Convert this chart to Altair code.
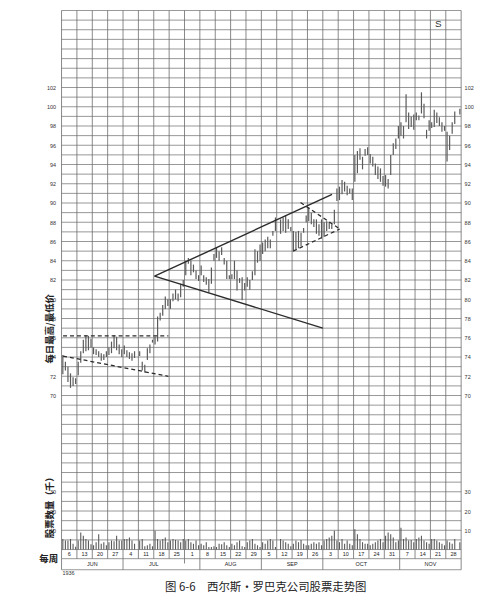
import altair as alt
import pandas as pd

# ---------------- data ----------------
WEEK_LABELS = ["6", "13", "20", "27", "4", "11", "18", "25", "1", "8", "15", "22", "29",
               "5", "12", "19", "26", "3", "10", "17", "24", "31", "7", "14", "21", "28"]
MONTHS = ["JUN", "JUL", "AUG", "SEP", "OCT", "NOV"]
MONTH_LABEL_POS = [2, 6, 11, 15, 19.5, 24]
MONTH_BOUNDS = [0, 4, 9, 13, 17, 22, 26]

# daily highs / lows, 6 trading days per week (None = no trading)
HIGH = [
    74.2, 73.5, 73.0, 72.3, 71.9, 71.8,
    73.5, 74.6, 75.8, 76.3, 76.2, 75.9,
    75.0, 74.8, 74.6, 74.4, 74.3, 74.6,
    75.0, 75.6, 76.3, 76.1, 75.3, 74.8,
    75.2, 74.7, 74.5, 74.4, 74.6, None,
    74.6, 73.5, 73.2, 74.9, 75.3, 75.8,
    76.1, 78.2, 78.6, 79.4, 80.3, 80.0,
    80.0, 80.6, 81.0, 80.6, 81.6, 82.0,
    84.0, 84.3, 84.0, 83.6, 83.0, 82.5,
    83.5, 82.5, 82.3, 82.1, 83.3, 84.7,
    85.4, 85.0, 85.4, 84.3, 84.0, 82.5,
    82.6, 84.0, 83.0, 82.2, 82.3, 81.7,
    82.3, 82.0, 82.9, 85.2, 85.0, 85.7,
    85.9, 86.2, 86.5, 86.2, 87.1, 88.5,
    None, 88.3, 88.5, 88.7, 88.3, 87.5,
    87.1, 87.0, 87.1, 86.9, 87.4, 88.7,
    89.5, 89.0, 88.3, 88.3, 87.8, 88.3,
    88.0, 88.1, 88.0, 87.8, 89.3, 91.5,
    91.7, 92.4, 92.2, 91.8, 91.5, 91.5,
    95.0, 95.4, 95.7, 94.8, 95.6, 95.8,
    95.1, 94.8, 94.1, 93.8, 93.6, 92.8,
    92.9, 92.5, 95.0, 96.2, 96.7, 98.0,
    98.4, 98.0, 101.3, 99.4, 99.0, 99.2,
    99.4, 99.1, 101.5, 100.3, 97.6, 98.6,
    98.4, 99.7, 99.4, 98.9, 98.4, 98.0,
    97.4, 97.0, 98.4, 99.5, None, 99.8,
]
LOW = [
    72.2, 72.6, 71.4, 70.8, 71.0, 71.2,
    72.1, 73.4, 74.4, 74.6, 74.7, 75.0,
    74.3, 74.2, 74.0, 73.6, 73.7, 74.0,
    74.2, 74.4, 74.9, 74.7, 74.3, 74.0,
    74.3, 74.0, 73.8, 73.6, 73.9, None,
    74.1, 72.6, 72.4, 73.7, 74.4, 75.5,
    75.3, 75.6, 77.8, 78.3, 79.0, 79.3,
    79.0, 79.8, 80.0, 79.8, 80.2, 81.3,
    82.5, 83.7, 82.5, 82.8, 82.1, 81.9,
    82.5, 81.8, 81.5, 80.7, 81.6, 84.0,
    84.3, 84.0, 84.6, 83.6, 82.1, 82.1,
    82.1, 82.1, 80.9, 81.7, 79.9, 80.9,
    81.3, 81.0, 82.0, 82.5, 83.8, 84.0,
    84.7, 85.0, 85.3, 85.3, 86.6, 87.1,
    None, 86.8, 87.1, 86.9, 87.3, 87.1,
    85.0, 85.2, 85.3, 85.5, 86.9, 88.0,
    88.1, 87.8, 87.5, 86.8, 86.6, 86.3,
    86.5, 87.1, 87.3, 87.3, 87.8, 90.2,
    90.3, 90.9, 91.2, 90.8, 91.0, 90.3,
    92.2, 93.1, 94.5, 93.5, 94.9, 95.0,
    94.1, 93.8, 92.9, 92.5, 92.2, 91.8,
    91.7, 91.5, 92.9, 95.0, 95.6, 96.7,
    97.0, 96.7, 98.4, 97.7, 97.9, 97.6,
    98.6, 98.6, 99.3, 98.8, 96.7, 97.5,
    97.8, 97.9, 98.3, 98.0, 97.4, 97.5,
    94.3, 95.5, 97.2, 98.2, None, 99.2,
]
# daily volume, thousands of shares
VOLUME = [
    5.5, 4.7, 4.7, 5.5, 3.0, 1.5,
    4.7, 8.8, 7.2, 5.5, 4.7, 2.7,
    2.2, 3.8, 8.0, 3.0, 3.8, 2.2,
    3.8, 4.7, 4.3, 7.2, 4.7, 4.7,
    5.5, 5.5, 6.3, 4.7, 3.0, None,
    4.7, 5.5, 1.7, 2.2, 3.0, 1.7,
    9.7, 5.5, 4.7, 5.5, 6.3, 3.8,
    4.7, 5.5, 5.0, 4.7, 3.8, 5.5,
    4.7, 5.5, 3.8, 3.0, 4.7, 2.2,
    3.0, 2.2, 3.8, 1.3, 1.3, 1.7,
    1.3, 3.0, 2.7, 3.8, 2.2, 1.3,
    3.0, 2.2, 3.8, 4.7, 1.7, 1.3,
    3.8, 4.7, 5.5, 3.0, 2.2, 1.3,
    3.8, 3.0, 4.7, 5.5, 4.7, 1.3,
    None, 5.5, 4.7, 3.8, 3.0, 1.7,
    3.0, 4.7, 3.8, 5.0, 3.0, 2.2,
    2.2, 3.0, 3.8, 3.0, 3.8, 2.2,
    4.7, 5.5, 6.3, 7.2, 9.7, 4.7,
    3.8, 5.5, 3.0, 4.7, 3.0, 2.2,
    10.5, 8.0, 5.5, 3.8, 3.0, 3.0,
    2.2, 3.0, 3.8, 4.7, 5.5, 3.8,
    7.2, 8.8, 8.0, 6.3, 3.8, 4.7,
    11.3, 5.5, 6.3, 4.7, 5.0, 3.8,
    5.5, 6.3, 7.2, 4.7, 3.8, 3.0,
    5.5, 5.5, 4.7, 3.8, 3.0, 2.2,
    4.7, 3.8, 3.0, 5.5, None, 3.8,
]

# trend lines (week position, price)
SOLID_X1 = [6.05, 6.05]
SOLID_Y1 = [82.4, 82.4]
SOLID_X2 = [17.6, 17.0]
SOLID_Y2 = [90.9, 77.0]
DASH_X1 = [0.1, 0.1, 15.55, 15.07]
DASH_Y1 = [76.2, 74.1, 90.05, 85.0]
DASH_X2 = [6.95, 6.95, 18.1, 18.1]
DASH_Y2 = [76.2, 72.0, 87.3, 87.3]

PRICE_TICKS = [70, 72, 74, 76, 78, 80, 82, 84, 86, 88, 90, 92, 94, 96, 98, 100, 102]
VOLUME_TICKS = [10, 20, 30]

# ---------------- layout constants ----------------
N_WEEKS = 26
DAYS = 6
VOL_BASE = 54.0       # price-grid row where volume zero sits
VOL_PER_UNIT = 5.0    # volume (thousands) per grid unit
WEEK_ROW_TOP = 54.0
WEEK_ROW_BOT = 53.05
MONTH_ROW_BOT = 51.9
Y_TOP = 110

XS = alt.Scale(domain=[0, N_WEEKS], nice=False, zero=False)
YS = alt.Scale(domain=[MONTH_ROW_BOT, Y_TOP], nice=False, zero=False)
GRID = "#6a6a6a"
INK = "#2b2b2b"
BAR = "#5a5a5a"
FONT = "Liberation Sans"
CJK = "Noto Sans CJK SC"

n = len(HIGH)
daily = pd.DataFrame({
    "x": [(i // DAYS) + ((i % DAYS) + 0.5) / DAYS for i in range(n)],
    "high": HIGH,
    "low": LOW,
    "vol": VOLUME,
})
price_df = daily.dropna(subset=["high", "low"])
vol_df = daily.dropna(subset=["vol"])

# grid
hgrid = pd.DataFrame({"p": list(range(54, Y_TOP + 1)) + [WEEK_ROW_BOT, MONTH_ROW_BOT]})
hgrid["x0"] = 0
hgrid["x1"] = N_WEEKS
vgrid = pd.DataFrame({"w": list(range(N_WEEKS + 1))})
vgrid["y0"] = WEEK_ROW_BOT
vgrid["y1"] = Y_TOP
mgrid = pd.DataFrame({"w": MONTH_BOUNDS + [8],
                      "y0": [MONTH_ROW_BOT] * len(MONTH_BOUNDS) + [52.55],
                      "y1": [WEEK_ROW_BOT] * (len(MONTH_BOUNDS) + 1)})

l_hgrid = alt.Chart(hgrid).mark_rule(color=GRID, strokeWidth=0.7).encode(
    x=alt.X("x0:Q", scale=XS, axis=None), x2="x1:Q",
    y=alt.Y("p:Q", scale=YS, axis=None))
l_vgrid = alt.Chart(vgrid).mark_rule(color=GRID, strokeWidth=0.8).encode(
    x=alt.X("w:Q", scale=XS, axis=None),
    y=alt.Y("y0:Q", scale=YS, axis=None), y2="y1:Q")
l_mgrid = alt.Chart(mgrid).mark_rule(color=GRID, strokeWidth=0.8).encode(
    x=alt.X("w:Q", scale=XS, axis=None),
    y=alt.Y("y0:Q", scale=YS, axis=None), y2="y1:Q")

l_price = alt.Chart(price_df).mark_rule(color=BAR, strokeWidth=1.2).encode(
    x=alt.X("x:Q", scale=XS, axis=None),
    y=alt.Y("low:Q", scale=YS, axis=None), y2="high:Q")

l_vol = alt.Chart(vol_df).transform_calculate(
    v0=f"{VOL_BASE}",
    v1=f"{VOL_BASE} + datum.vol / {VOL_PER_UNIT}",
).mark_rule(color=BAR, strokeWidth=1.1).encode(
    x=alt.X("x:Q", scale=XS, axis=None),
    y=alt.Y("v0:Q", scale=YS, axis=None), y2="v1:Q")

solid = pd.DataFrame({"x1": SOLID_X1, "y1": SOLID_Y1, "x2": SOLID_X2, "y2": SOLID_Y2})
dash = pd.DataFrame({"x1": DASH_X1, "y1": DASH_Y1, "x2": DASH_X2, "y2": DASH_Y2})
l_solid = alt.Chart(solid).mark_rule(color=INK, strokeWidth=1.4).encode(
    x=alt.X("x1:Q", scale=XS, axis=None), x2="x2:Q",
    y=alt.Y("y1:Q", scale=YS, axis=None), y2="y2:Q")
l_dash = alt.Chart(dash).mark_rule(color=INK, strokeWidth=1.3, strokeDash=[4, 3]).encode(
    x=alt.X("x1:Q", scale=XS, axis=None), x2="x2:Q",
    y=alt.Y("y1:Q", scale=YS, axis=None), y2="y2:Q")

# axes (left and right), volume ticks shown on the same scale
tick_vals = [VOL_BASE + v / VOL_PER_UNIT for v in VOLUME_TICKS] + PRICE_TICKS
label_expr = (f"datum.value < 62 ? format((datum.value - {VOL_BASE}) * {VOL_PER_UNIT}, 'd') "
              f": format(datum.value, 'd')")
ticks_df = pd.DataFrame({"t": tick_vals})
axis_common = dict(values=tick_vals, labelExpr=label_expr, ticks=False, domain=False, grid=False,
                   labelFont=FONT, labelFontSize=5.5, labelColor="#333", title=None)
l_axl = alt.Chart(ticks_df).mark_point(opacity=0).encode(
    y=alt.Y("t:Q", scale=YS, axis=alt.Axis(orient="left", labelPadding=6, **axis_common)))
l_axr = alt.Chart(ticks_df).mark_point(opacity=0).encode(
    y=alt.Y("t:Q", scale=YS, axis=alt.Axis(orient="right", labelPadding=3, **axis_common)))

# week & month labels
wk = pd.DataFrame({"x": [i + 0.5 for i in range(N_WEEKS)], "t": WEEK_LABELS,
                   "y": [(WEEK_ROW_TOP + WEEK_ROW_BOT) / 2] * N_WEEKS})
mo = pd.DataFrame({"x": MONTH_LABEL_POS, "t": MONTHS,
                   "y": [(WEEK_ROW_BOT + MONTH_ROW_BOT) / 2] * len(MONTHS)})
l_wk = alt.Chart(wk).mark_text(font=FONT, fontSize=5.5, color="#222", baseline="middle").encode(
    x=alt.X("x:Q", scale=XS, axis=None), y=alt.Y("y:Q", scale=YS, axis=None), text="t:N")
l_mo = alt.Chart(mo).mark_text(font=FONT, fontSize=5.5, color="#222", baseline="middle").encode(
    x=alt.X("x:Q", scale=XS, axis=None), y=alt.Y("y:Q", scale=YS, axis=None), text="t:N")

# annotations
def note(text, px, py, **kw):
    return alt.Chart(pd.DataFrame({"t": [text]})).mark_text(**kw).encode(
        x=alt.value(px), y=alt.value(py), text="t:N")

l_title_price = note("每日最高/最低价", -12, 321, font=CJK, fontSize=9.5, fontWeight="bold",
                     angle=270, color="#222", baseline="middle")
l_title_vol = note("股票数量（千）", -12, 499, font=CJK, fontSize=9.5, fontWeight="bold",
                   angle=270, color="#222", baseline="middle")
l_weekly = note("每周", -13, 553, font=CJK, fontSize=9.5, fontWeight="bold", color="#222",
                baseline="middle")
l_year = note("1936", 1, 567, font=FONT, fontSize=5.5, color="#333", align="left", baseline="middle")
l_s = note("S", 380, 14, font=FONT, fontSize=10, color="#333", baseline="middle")
l_caption = note("图 6-6　西尔斯·罗巴克公司股票走势图", 206, 582, font=CJK, fontSize=11.5,
                 color="#222", baseline="middle")

chart = alt.layer(
    l_hgrid, l_vgrid, l_mgrid, l_vol, l_price, l_solid, l_dash,
    l_axl, l_axr, l_wk, l_mo,
    l_title_price, l_title_vol, l_weekly, l_year, l_s, l_caption,
).resolve_axis(y="independent").properties(
    width=403, height=564,
    autosize=alt.AutoSizeParams(type="none"),
    padding={"left": 54, "top": 0, "right": 18, "bottom": 29},
    background="white",
).configure_view(stroke=None)

chart.save("out.html", embed_options={"renderer": "svg", "actions": False})
